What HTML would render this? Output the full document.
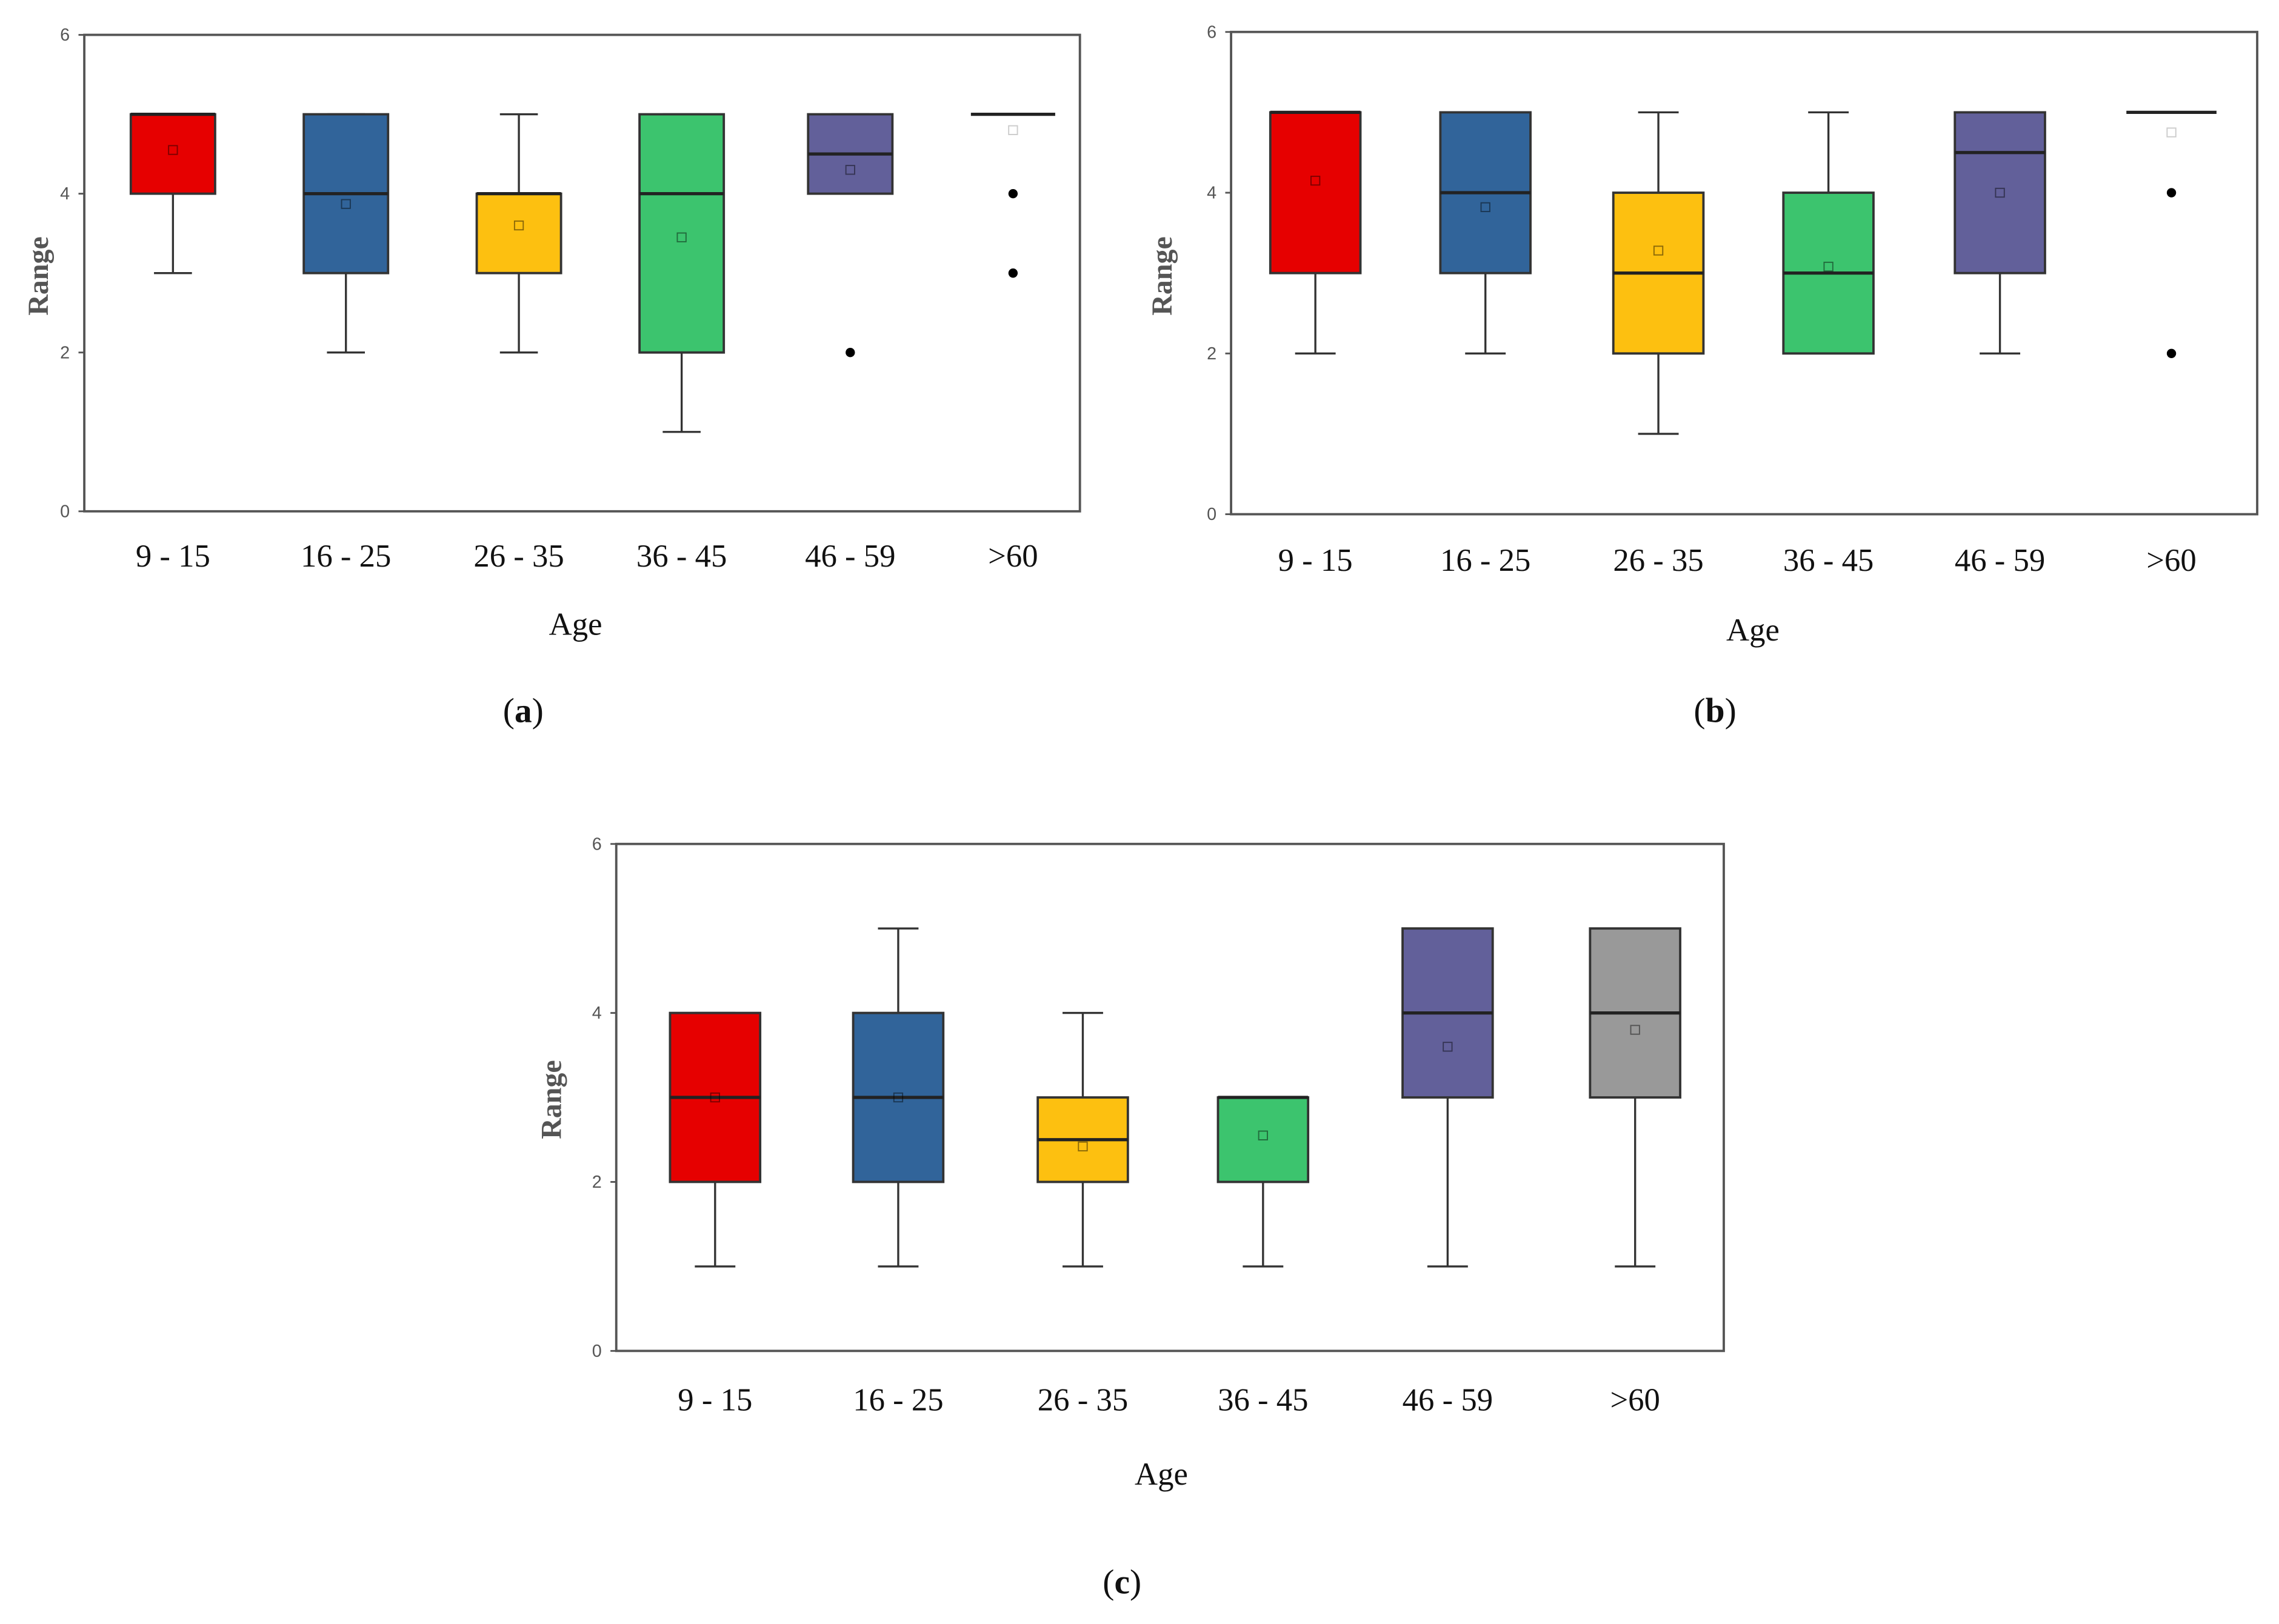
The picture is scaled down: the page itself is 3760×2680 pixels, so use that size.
<!DOCTYPE html>
<html><head><meta charset="utf-8"><style>
html,body{margin:0;padding:0;background:#fff;}
svg{display:block;}
</style></head><body>
<svg id="fig" width="3760" height="2680" viewBox="0 0 1568 1118" preserveAspectRatio="none" xmlns="http://www.w3.org/2000/svg"></svg>
<script>
const categories = ["9 - 15","16 - 25","26 - 35","36 - 45","46 - 59",">60"];
const colors = ["#e60000","#31649a","#fdc010","#3cc46e","#62609a","#999999"];
const yTicks = [0,2,4,6];
// panel a
const aWhiskLo = [3,2,2,1,4,5];
const aQ1 = [4,3,3,2,4,5];
const aMed = [5,4,4,4,4.5,5];
const aQ3 = [5,5,4,5,5,5];
const aWhiskHi = [5,5,5,5,5,5];
const aMean = [4.55,3.87,3.6,3.45,4.3,4.8];
const aOutliers = [[],[],[],[],[2],[4,3]];
// panel b
const bWhiskLo = [2,2,1,2,2,5];
const bQ1 = [3,3,2,2,3,5];
const bMed = [5,4,3,3,4.5,5];
const bQ3 = [5,5,4,4,5,5];
const bWhiskHi = [5,5,5,5,5,5];
const bMean = [4.15,3.82,3.28,3.08,4.0,4.75];
const bOutliers = [[],[],[],[],[],[4,2]];
// panel c
const cWhiskLo = [1,1,1,1,1,1];
const cQ1 = [2,2,2,2,3,3];
const cMed = [3,3,2.5,3,4,4];
const cQ3 = [4,4,3,3,5,5];
const cWhiskHi = [4,5,4,3,5,5];
const cMean = [3.0,3.0,2.42,2.55,3.6,3.8];
const cOutliers = [[],[],[],[],[],[]];

const NS="http://www.w3.org/2000/svg";
const svg=document.getElementById('fig');
function mk(tag,attrs,parent,text){const e=document.createElementNS(NS,tag);for(const k in attrs)e.setAttribute(k,attrs[k]);if(text!==undefined)e.textContent=text;(parent||svg).appendChild(e);return e;}

function panel(id,box,centers,bw,labelY,ageXY,tagXY,rangeXY,lo,q1,med,q3,hi,mean,outs,hideLastBox){
  const g=mk('g',{});
  
  
  const [L,T,R,B]=box;
  const y=v=>B-(v/6)*(B-T);
  const fr=mk('rect',{x:L,y:T,width:R-L,height:B-T,fill:'none',stroke:'#555','stroke-width':1.6},g);
  
  
  yTicks.forEach(t=>{
    mk('line',{x1:L-4,x2:L,y1:y(t),y2:y(t),stroke:'#555','stroke-width':1.2},g);
    const tl=mk('text',{x:L-10,y:y(t)+4,'text-anchor':'end','font-family':'Liberation Sans, sans-serif','font-size':12,fill:'#555'},g,String(t));
    
    
  });
  categories.forEach((c,i)=>{
    const cx=centers[i];
    const xl=mk('text',{x:cx,y:labelY,'text-anchor':'middle','font-family':'Liberation Serif, serif','font-size':22,fill:'#111'},g,c);
    
    
    const bg=mk('g',{},g);
    
    
    const sw=1.4, cap=bw*0.45;
    mk('line',{x1:cx,x2:cx,y1:y(hi[i]),y2:y(q3[i]),stroke:'#333','stroke-width':sw},bg);
    mk('line',{x1:cx,x2:cx,y1:y(q1[i]),y2:y(lo[i]),stroke:'#333','stroke-width':sw},bg);
    mk('line',{x1:cx-cap/2,x2:cx+cap/2,y1:y(hi[i]),y2:y(hi[i]),stroke:'#333','stroke-width':sw},bg);
    mk('line',{x1:cx-cap/2,x2:cx+cap/2,y1:y(lo[i]),y2:y(lo[i]),stroke:'#333','stroke-width':sw},bg);
    if(q3[i]>q1[i]){
      mk('rect',{x:cx-bw/2,y:y(q3[i]),width:bw,height:y(q1[i])-y(q3[i]),fill:colors[i],stroke:'#333','stroke-width':1.6},bg);
    }
    mk('line',{x1:cx-bw/2,x2:cx+bw/2,y1:y(med[i]),y2:y(med[i]),stroke:'#222','stroke-width':2.2},bg);
    mk('rect',{x:cx-3,y:y(mean[i])-3,width:6,height:6,fill:'none',stroke:q3[i]>q1[i]?'rgba(0,0,0,0.45)':'#ccc','stroke-width':0.8},bg);
    outs[i].forEach(o=>{
      const d=mk('circle',{cx:cx,cy:y(o),r:3.2,fill:'#000'},bg);
      
      
    });
  });
  const age=mk('text',{x:ageXY[0],y:ageXY[1],'text-anchor':'middle','font-family':'Liberation Serif, serif','font-size':22,fill:'#111'},g,'Age');
  
  
  const rg=mk('text',{x:rangeXY[0],y:rangeXY[1],'text-anchor':'middle','font-family':'Liberation Serif, serif','font-size':20,'font-weight':'bold',fill:'#555',transform:`rotate(-90 ${rangeXY[0]} ${rangeXY[1]})`},g,'Range');
  
  
  const tg=mk('text',{x:tagXY[0],y:tagXY[1],'text-anchor':'middle','font-family':'Liberation Serif, serif','font-size':24,fill:'#111'},g);
  
  
  mk('tspan',{},tg,'(');
  mk('tspan',{'font-weight':'bold'},tg,id);
  mk('tspan',{},tg,')');
}
panel('a',[58,24,743,352],[119,238,357,469,585,697],58,390,[396,437],[360,497],[33,190],aWhiskLo,aQ1,aMed,aQ3,aWhiskHi,aMean,aOutliers);
panel('b',[847,22,1553,354],[905,1022,1141,1258,1376,1494],62,393,[1206,441],[1180,497],[806,190],bWhiskLo,bQ1,bMed,bQ3,bWhiskHi,bMean,bOutliers);
panel('c',[424,581,1186,930],[492,618,745,869,996,1125],62,971,[799,1022],[772,1097],[386,757],cWhiskLo,cQ1,cMed,cQ3,cWhiskHi,cMean,cOutliers);
</script>
</body></html>
